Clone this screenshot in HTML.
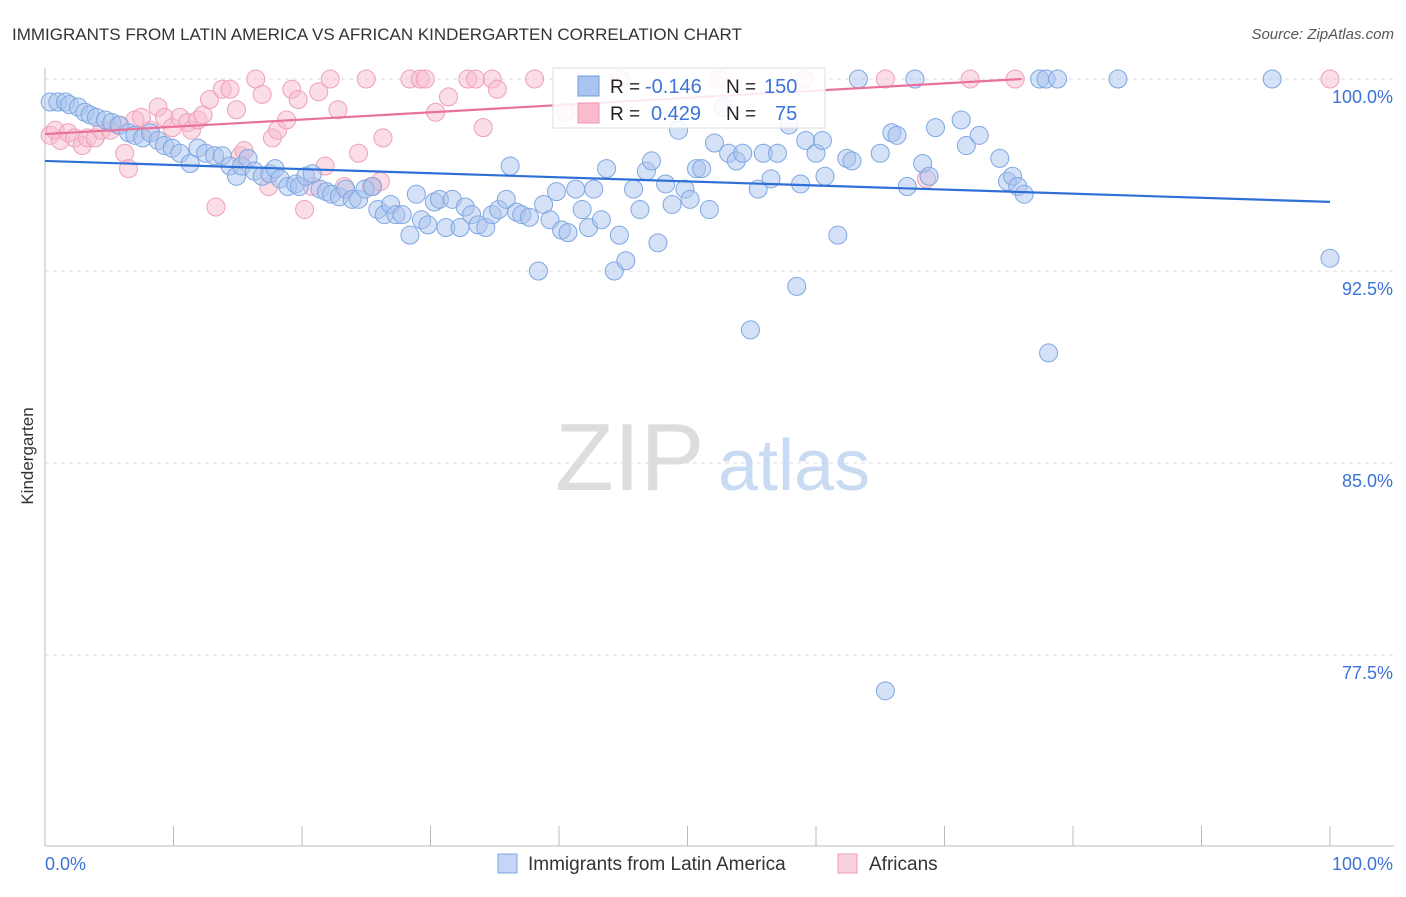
<!DOCTYPE html>
<html><head><meta charset="utf-8"><style>
body{margin:0;background:#fff;font-family:"Liberation Sans",sans-serif;}
svg text{font-family:"Liberation Sans",sans-serif;}
</style></head><body>
<svg id="chart" width="1406" height="892" viewBox="0 0 1406 892">
<text x="12" y="40" font-size="17" fill="#333">IMMIGRANTS FROM LATIN AMERICA VS AFRICAN KINDERGARTEN CORRELATION CHART</text>
<text x="1394" y="39" font-size="15" fill="#555" text-anchor="end" font-style="italic">Source: ZipAtlas.com</text>
<text x="33" y="456" font-size="17" fill="#333" transform="rotate(-90 33 456)" text-anchor="middle">Kindergarten</text>
<g id="grid"></g>
<text x="555" y="490" font-size="96" fill="#ddd" font-family="Liberation Serif">ZIP</text>
<text x="718" y="490" font-size="72" fill="#c8dbf2">atlas</text>
<g id="pts"></g>
<g id="lines"></g>
<g>
<rect x="553" y="68" width="272" height="60" fill="#fff" fill-opacity="0.85" stroke="#ddd"/>
<rect x="578" y="76" width="21" height="20" fill="#a9c4ee" stroke="#6c9de0"/>
<rect x="578" y="103" width="21" height="20" fill="#f8bccd" stroke="#ee95b0"/>
<text x="610" y="93" font-size="19" fill="#222">R =</text>
<text x="645" y="93" font-size="20" fill="#3b73d6">-0.146</text>
<text x="726" y="93" font-size="19" fill="#222">N =</text>
<text x="764" y="93" font-size="20" fill="#3b73d6">150</text>
<text x="610" y="120" font-size="19" fill="#222">R =</text>
<text x="651" y="120" font-size="20" fill="#3b73d6">0.429</text>
<text x="726" y="120" font-size="19" fill="#222">N =</text>
<text x="775" y="120" font-size="20" fill="#3b73d6">75</text>
</g>
<g>
<rect x="498" y="854" width="19" height="19" fill="#c3d6f5" stroke="#7ea7e3"/>
<text x="528" y="870" font-size="19" fill="#333">Immigrants from Latin America</text>
<rect x="838" y="854" width="19" height="19" fill="#fbd0dd" stroke="#ee9db5"/>
<text x="869" y="870" font-size="19" fill="#333">Africans</text>
</g>
<text x="45" y="870" font-size="18" fill="#3b73d6">0.0%</text>
<text x="1393" y="870" font-size="18" fill="#3b73d6" text-anchor="end">100.0%</text>
</svg>
<script>
const yTicks=[100,92.5,85,77.5];
const yTickLabels=["100.0%","92.5%","85.0%","77.5%"];
const blueX=[0.4,1,1.6,1.9,2.6,3.1,3.5,4,4.7,5.2,5.8,6.5,7,7.6,8.2,8.8,9.3,9.9,10.5,11.3,11.9,12.5,13.2,13.8,14.4,14.9,15.3,15.8,16.3,16.9,17.5,17.9,18.3,18.9,19.5,19.8,20.3,20.8,21.4,21.9,22.3,22.9,23.4,23.9,24.4,24.9,25.5,25.9,26.4,26.9,27.3,27.8,28.4,28.9,29.3,29.8,30.3,30.7,31.2,31.7,32.3,32.7,33.2,33.7,34.3,34.8,35.3,35.9,36.2,36.7,37.1,37.7,38.4,38.8,39.3,39.8,40.2,40.7,41.3,41.8,42.3,42.7,43.3,43.7,44.3,44.7,45.2,45.8,46.3,46.8,47.2,47.7,48.3,48.8,49.3,49.8,50.2,50.7,51.1,51.7,52.1,52.8,53.2,53.8,54.3,54.9,55.5,55.9,56.5,57,57.9,58.5,58.8,59.2,60,60.5,60.7,61.7,62.4,62.8,63.3,65,65.4,65.9,66.3,67.1,67.7,68.3,68.8,69.3,71.3,71.7,72.7,74.3,74.9,75.3,75.7,76.2,77.4,77.9,78.1,78.8,83.5,95.5,100];
const blueY=[99.1,99.1,99.1,99,98.9,98.7,98.6,98.5,98.4,98.3,98.2,97.9,97.8,97.7,97.9,97.6,97.4,97.3,97.1,96.7,97.3,97.1,97,97,96.6,96.2,96.6,96.9,96.4,96.2,96.3,96.5,96.1,95.8,95.9,95.8,96.2,96.3,95.7,95.6,95.5,95.4,95.7,95.3,95.3,95.7,95.8,94.9,94.7,95.1,94.7,94.7,93.9,95.5,94.5,94.3,95.2,95.3,94.2,95.3,94.2,95,94.7,94.3,94.2,94.7,94.9,95.3,96.6,94.8,94.7,94.6,92.5,95.1,94.5,95.6,94.1,94,95.7,94.9,94.2,95.7,94.5,96.5,92.5,93.9,92.9,95.7,94.9,96.4,96.8,93.6,95.9,95.1,98,95.7,95.3,96.5,96.5,94.9,97.5,98.9,97.1,96.8,97.1,90.2,95.7,97.1,96.1,97.1,98.2,91.9,95.9,97.6,97.1,97.6,96.2,93.9,96.9,96.8,100,97.1,76.1,97.9,97.8,95.8,100,96.7,96.2,98.1,98.4,97.4,97.8,96.9,96,96.2,95.8,95.5,100,100,89.3,100,100,100,93];
const pinkX=[0.4,0.8,1.2,1.8,2.3,2.9,3.3,3.9,4.4,5.1,5.7,6.2,6.5,7,7.5,8.2,8.8,9.3,9.9,10.5,11.1,11.4,11.9,12.3,12.8,13.3,13.8,14.4,14.9,15.2,15.5,16.4,16.9,17.4,17.7,18.1,18.8,19.2,19.7,20.2,20.8,21.3,21.8,22.2,22.8,23.3,24.4,25,25.4,26.1,26.3,28.4,29.2,29.6,30.4,31.4,32.9,33.5,34.1,34.8,35.2,38.1,40.5,44.7,52.4,59.1,65.4,68.6,72,75.5,100];
const pinkY=[97.8,98,97.6,97.9,97.7,97.4,97.7,97.7,98,98,98.2,97.1,96.5,98.4,98.5,98,98.9,98.5,98.1,98.5,98.3,98,98.4,98.6,99.2,95,99.6,99.6,98.8,97,97.2,100,99.4,95.8,97.7,98,98.4,99.6,99.2,94.9,95.8,99.5,96.6,100,98.8,95.8,97.1,100,95.8,96,97.7,100,100,100,98.7,99.3,100,100,98.1,100,99.6,100,98.7,100,100,100,100,96.1,100,100,100];
const X0=45,X1=1330,Y100=79,PX=25.6;
const sx=v=>X0+(X1-X0)*v/100;
const sy=v=>Y100+(100-v)*PX;
const NS="http://www.w3.org/2000/svg";
function mk(tag,attrs,parent){const e=document.createElementNS(NS,tag);for(const k in attrs)e.setAttribute(k,attrs[k]);parent.appendChild(e);return e;}
const grid=document.getElementById('grid');
yTicks.forEach((t,i)=>{
 const l=mk('line',{x1:45,x2:1394,y1:sy(t),y2:sy(t),stroke:'#ddd','stroke-dasharray':'4,4'},grid);
 
 
 const tx=mk('text',{x:1393,y:sy(t)+24,'font-size':18,fill:'#3b73d6','text-anchor':'end'},grid);
 tx.textContent=yTickLabels[i];
 
 
});
const ax=mk('line',{x1:45,x2:45,y1:68,y2:846,stroke:'#bbb'},grid);


const bx=mk('line',{x1:45,x2:1394,y1:846,y2:846,stroke:'#bbb'},grid);


for(let i=0;i<=10;i++){
 const t=mk('line',{x1:sx(i*10),x2:sx(i*10),y1:826,y2:846,stroke:'#bbb'},grid);
 
 
}
const pts=document.getElementById('pts');
pinkX.forEach((x,i)=>{
 const c=mk('circle',{cx:sx(x),cy:sy(pinkY[i]),r:9,fill:'#f8bccd','fill-opacity':0.5,stroke:'#f0a0b8','stroke-width':1},pts);
 
 
});
blueX.forEach((x,i)=>{
 const c=mk('circle',{cx:sx(x),cy:sy(blueY[i]),r:9,fill:'#a9c4ee','fill-opacity':0.5,stroke:'#7ea7e3','stroke-width':1},pts);
 
 
});
const lines=document.getElementById('lines');
const bl=mk('line',{x1:sx(0),y1:sy(96.8),x2:sx(100),y2:sy(95.2),stroke:'#2f6fd6','stroke-width':2.2},lines);


const pl=mk('line',{x1:sx(0),y1:sy(97.85),x2:sx(76),y2:sy(100),stroke:'#e8729a','stroke-width':2.2},lines);


</script>
</body></html>
